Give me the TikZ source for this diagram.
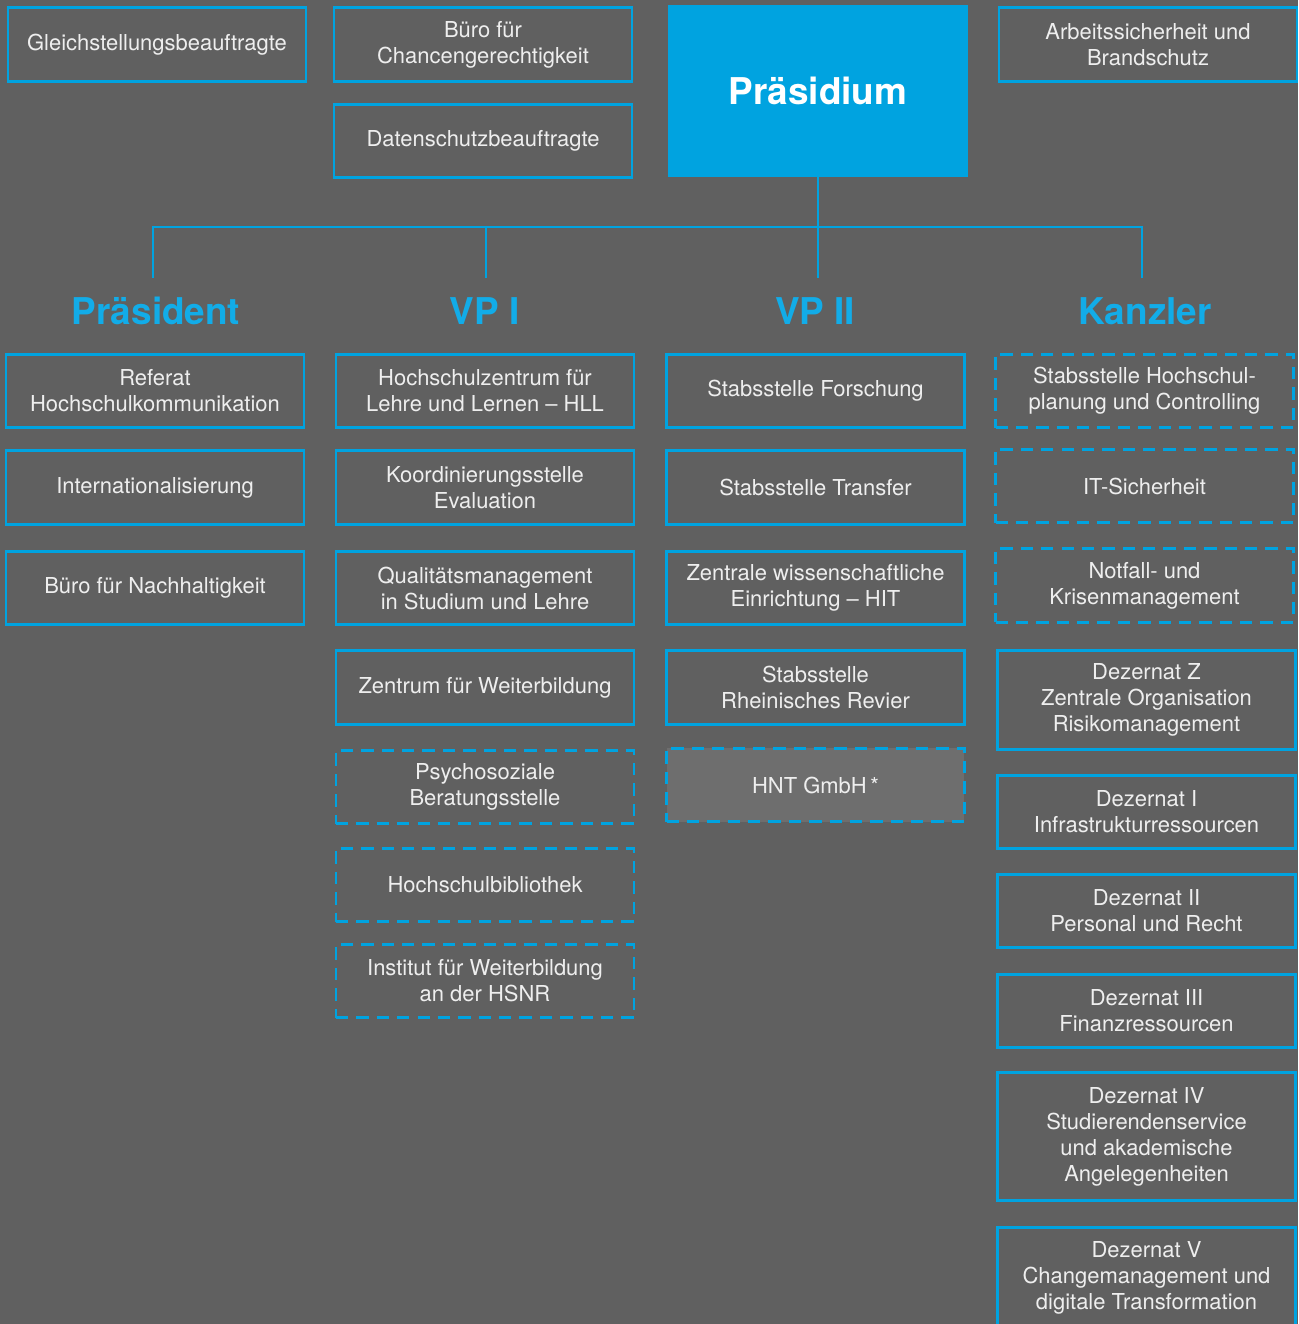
\documentclass[tikz,border=0pt]{standalone}
\usepackage{fontspec}
\setmainfont{TeX Gyre Heros}
\usepackage{tikz}
\usetikzlibrary{positioning}

\definecolor{hsblue}{RGB}{0,163,224}
\definecolor{hshead}{RGB}{18,172,232}
\definecolor{hsbg}{RGB}{96,96,96}
\definecolor{hsfill}{RGB}{110,110,110}
\definecolor{hstext}{RGB}{238,238,238}

\tikzset{
 unit/.style={draw=hsblue, line width=1.5pt, text=hstext, align=center,
  inner sep=0pt, minimum width=5.96cm, minimum height=1.47cm,
  font=\fontsize{12.5}{14.8}\selectfont},
 unitdash/.style={unit, dash pattern=on 7pt off 4.6pt},
 headline/.style={text=hshead, anchor=base, font=\fontsize{21}{24}\selectfont\bfseries},
 bus/.style={draw=hsblue, line width=1.4pt}
}

\begin{document}
\begin{tikzpicture}[x=0.02cm,y=-0.02cm]
 \useasboundingbox (0,0) rectangle (1298,1324);
 \fill[hsbg] (0,0) rectangle (1298,1324);

 % top row
 \node[unit] (gleich) at (157,44.5) {Gleichstellungsbeauftragte};
 \node[unit] (chancen) at (483,44.5) {Büro für\\Chancengerechtigkeit};
 \node[unit] (daten) at (483,141) {Datenschutzbeauftragte};
 \node[fill=hsblue, text=white, minimum width=6cm, minimum height=3.44cm,
  font=\fontsize{21}{24}\selectfont\bfseries] (praes) at (818,91) {Präsidium};
 \node[unit] (arbeit) at (1148,44.5) {Arbeitssicherheit und\\Brandschutz};

 % lines
 \coordinate (bus) at (818,227);
 \coordinate (tA) at (153,278);
 \coordinate (tB) at (486,278);
 \coordinate (tC) at (818,278);
 \coordinate (tD) at (1142,278);
 \draw[bus] (praes.south) -- (tC);
 \draw[bus] (tA) -- (tA |- bus) -- (tD |- bus) -- (tD);
 \draw[bus] (tB |- bus) -- (tB);

 \node[headline] (hpraes) at (156,324) {Präsident};
 \node[headline] (hvp1) at (484.5,324) {VP I};
 \node[headline] (hvp2) at (815,324) {VP II};
 \node[headline] (hkanz) at (1145,324) {Kanzler};

 % Praesident
 \node[unit] (referat) at (155,391) {Referat\\Hochschulkommunikation};
 \node[unit] (intern) at (155,487.5) {Internationalisierung};
 \node[unit] (nachhalt) at (155,588) {Büro für Nachhaltigkeit};

 % VP I
 \node[unit] (hll) at (485,391) {Hochschulzentrum für\\Lehre und Lernen – HLL};
 \node[unit] (koord) at (485,487.5) {Koordinierungsstelle\\Evaluation};
 \node[unit] (quali) at (485,588) {Qualitätsmanagement\\in Studium und Lehre};
 \node[unit] (zwb) at (485,687.5) {Zentrum für Weiterbildung};
 \node[unitdash] (psycho) at (485,787) {Psychosoziale\\Beratungsstelle};
 \node[unitdash] (biblio) at (485,885) {Hochschulbibliothek};
 \node[unitdash] (institut) at (485,981) {Institut für Weiterbildung\\an der HSNR};

 % VP II
 \node[unit] (forsch) at (815.5,391) {Stabsstelle Forschung};
 \node[unit] (transfer) at (815.5,487.5) {Stabsstelle Transfer};
 \node[unit] (hit) at (815.5,588) {Zentrale wissenschaftliche\\Einrichtung – HIT};
 \node[unit] (revier) at (815.5,687.5) {Stabsstelle\\Rheinisches Revier};
 \node[unitdash, fill=hsfill] (hnt) at (815.5,785) {HNT GmbH\,*};

 % Kanzler
 \node[unitdash] (planung) at (1144.5,391) {Stabsstelle Hochschul-\\planung und Controlling};
 \node[unitdash] (itsich) at (1144.5,486) {IT-Sicherheit};
 \node[unitdash] (notfall) at (1144.5,585.5) {Notfall- und\\Krisenmanagement};
 \node[unit, minimum height=1.98cm] (dezz) at (1146.5,700) {Dezernat Z\\Zentrale Organisation\\Risikomanagement};
 \node[unit] (dez1) at (1146.5,812) {Dezernat I\\Infrastrukturressourcen};
 \node[unit] (dez2) at (1146.5,911) {Dezernat II\\Personal und Recht};
 \node[unit] (dez3) at (1146.5,1011) {Dezernat III\\Finanzressourcen};
 \node[unit, minimum height=2.56cm] (dez4) at (1146.5,1136.5) {Dezernat IV\\Studierendenservice\\und akademische\\Angelegenheiten};
 \node[unit, minimum height=2.02cm] (dez5) at (1146.5,1278) {Dezernat V\\Changemanagement und\\digitale Transformation};
\end{tikzpicture}
\end{document}
